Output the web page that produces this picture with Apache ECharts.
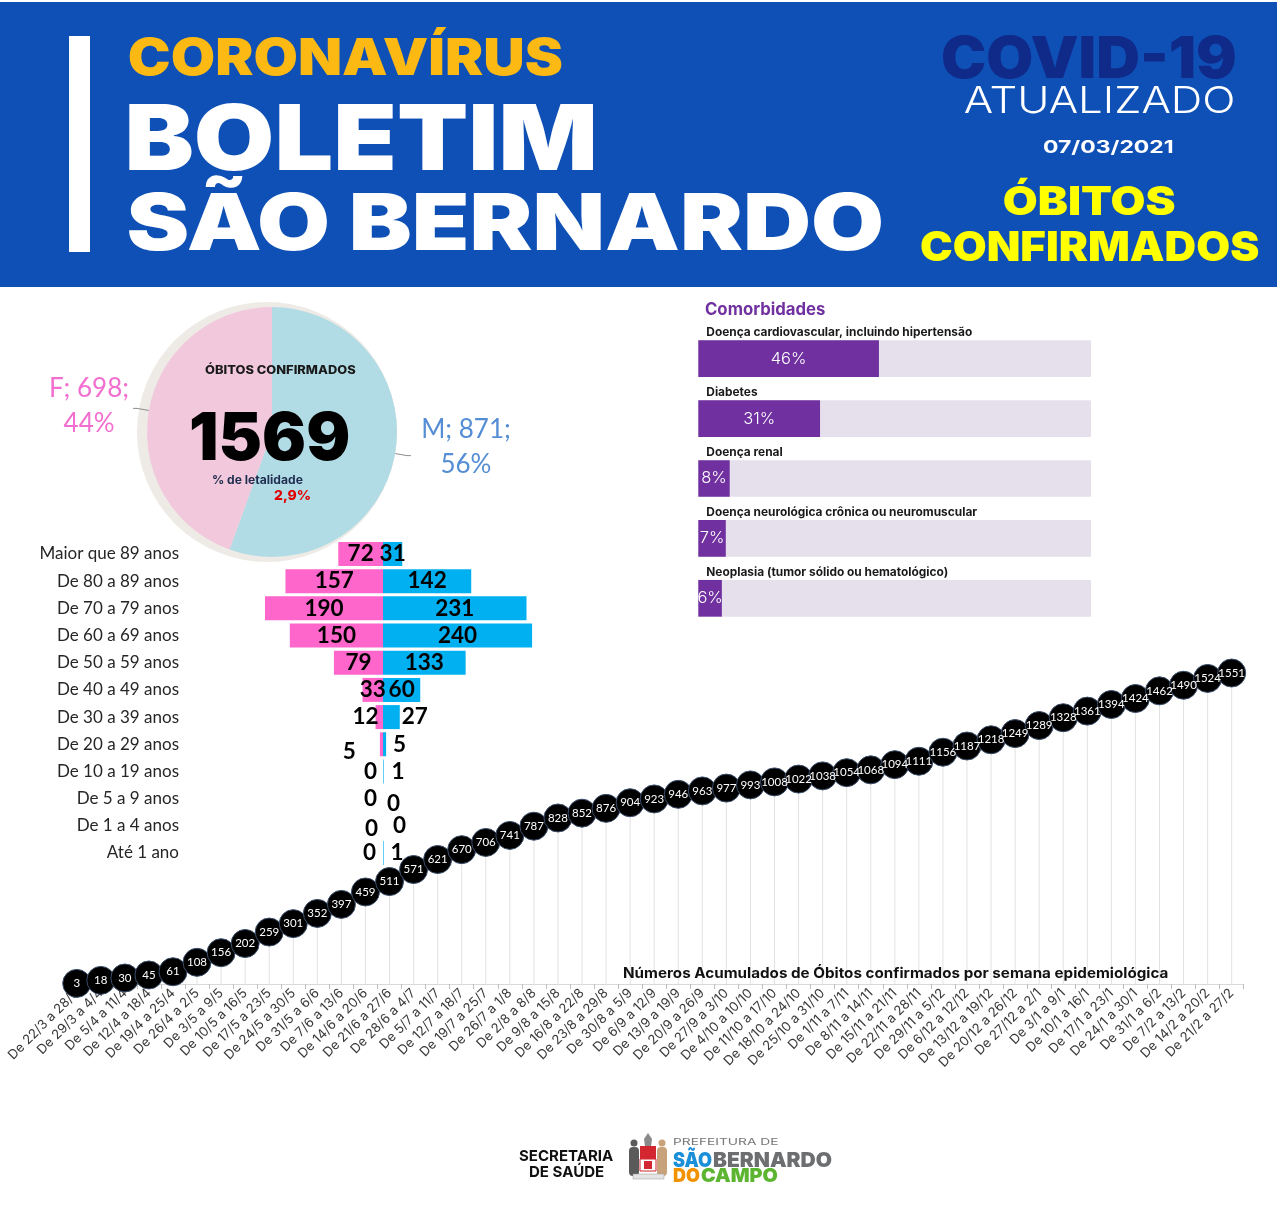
<!DOCTYPE html>
<html><head><meta charset="utf-8">
<script src="https://cdn.jsdelivr.net/npm/echarts@6/dist/echarts.min.js"></script>
<style>html,body{margin:0;padding:0;background:#fff}#c{width:1280px;height:1227px}</style>
</head><body><div id="c"></div>
<script>
// ---------- DATA ----------
const weeks = ['De 22/3 a 28/3','De 29/3 a 4/4','De 5/4 a 11/4','De 12/4 a 18/4','De 19/4 a 25/4','De 26/4 a 2/5','De 3/5 a 9/5','De 10/5 a 16/5','De 17/5 a 23/5','De 24/5 a 30/5','De 31/5 a 6/6','De 7/6 a 13/6','De 14/6 a 20/6','De 21/6 a 27/6','De 28/6 a 4/7','De 5/7 a 11/7','De 12/7 a 18/7','De 19/7 a 25/7','De 26/7 a 1/8','De 2/8 a 8/8','De 9/8 a 15/8','De 16/8 a 22/8','De 23/8 a 29/8','De 30/8 a 5/9','De 6/9 a 12/9','De 13/9 a 19/9','De 20/9 a 26/9','De 27/9 a 3/10','De 4/10 a 10/10','De 11/10 a 17/10','De 18/10 a 24/10','De 25/10 a 31/10','De 1/11 a 7/11','De 8/11 a 14/11','De 15/11 a 21/11','De 22/11 a 28/11','De 29/11 a 5/12','De 6/12 a 12/12','De 13/12 a 19/12','De 20/12 a 26/12','De 27/12 a 2/1','De 3/1 a 9/1','De 10/1 a 16/1','De 17/1 a 23/1','De 24/1 a 30/1','De 31/1 a 6/2','De 7/2 a 13/2','De 14/2 a 20/2','De 21/2 a 27/2'];
const accumulated = [3,18,30,45,61,108,156,202,259,301,352,397,459,511,571,621,670,706,741,787,828,852,876,904,923,946,963,977,993,1008,1022,1038,1054,1068,1094,1111,1156,1187,1218,1249,1289,1328,1361,1394,1424,1462,1490,1524,1551];
const ageGroups = ['Maior que 89 anos','De 80 a 89 anos','De 70 a 79 anos','De 60 a 69 anos','De 50 a 59 anos','De 40 a 49 anos','De 30 a 39 anos','De 20 a 29 anos','De 10 a 19 anos','De 5 a 9 anos','De 1 a 4 anos','Até 1 ano'];
const femaleByAge = [72,157,190,150,79,33,12,5,0,0,0,0];
const maleByAge = [31,142,231,240,133,60,27,5,1,0,0,1];
const sexNames = ['M','F'];
const sexValues = [871,698];
const comorbidities = ['Doença cardiovascular, incluindo hipertensão','Diabetes','Doença renal','Doença neurológica crônica ou neuromuscular','Neoplasia (tumor sólido ou hematológico)'];
const comorbidityPct = [46,31,8,7,6];
const totalDeaths = 1569;
const lethality = '2,9%';

// ---------- STYLE ----------
const sexColors = {M:'#b1dce5', F:'#f2c8dc'};
const sexText = {M:'#558ed5', F:'#f26fd0'};
const sexLabelShift = {M:[3,-9], F:[8,-2]};
const fLabelStyle = [
  {position:'inside'},{position:'inside'},{position:'inside'},{position:'inside'},{position:'inside'},{position:'inside'},
  {position:'left',distance:-3},{position:'left',distance:24,offset:[0,7]},{position:'left',distance:6},
  {position:'left',distance:6},{position:'left',distance:5,offset:[0,3]},{position:'left',distance:7}
];
const mLabelStyle = [
  {position:'inside'},{position:'inside'},{position:'inside'},{position:'inside'},{position:'inside'},{position:'inside'},
  {position:'right',distance:2},{position:'right',distance:7},{position:'right',distance:8},
  {position:'right',distance:4,offset:[0,5]},{position:'right',distance:10},{position:'right',distance:7}
];

const mctx = document.createElement('canvas').getContext('2d');
function fitText(txt, weight, family, capTop, capBot, xL, xR, fill, ref, z) {
  ref = ref || 'H';
  mctx.textBaseline = 'middle';
  mctx.font = weight + ' 100px ' + family;
  let mr = mctx.measureText(ref);
  const h100 = mr.actualBoundingBoxAscent + mr.actualBoundingBoxDescent;
  const fs = 100 * (capBot - capTop) / h100;
  const font = weight + ' ' + fs.toFixed(2) + 'px ' + family;
  mctx.font = font;
  mr = mctx.measureText(ref);
  const m = mctx.measureText(txt);
  const inkW = m.actualBoundingBoxLeft + m.actualBoundingBoxRight;
  const sx = (xR - xL) / inkW;
  return {type:'text', x: xL + m.actualBoundingBoxLeft * sx, y: capTop + mr.actualBoundingBoxAscent,
    scaleX: sx, z: z || 10, silent: true,
    style:{text: txt, font: font, fill: fill, textAlign:'left', textVerticalAlign:'middle', align:'left', verticalAlign:'middle'}};
}

const chart = echarts.init(document.getElementById('c'));
const graphics = [
  {type:'rect', shape:{x:0,y:2,width:1277,height:285}, style:{fill:'#0f50b6'}, z:1, silent:true},
  {type:'rect', shape:{x:69,y:36,width:21,height:216}, style:{fill:'#ffffff'}, z:2, silent:true},
  fitText('CORONAVÍRUS','900','Inter',38,75,129,562,'#fdb913'),
  fitText('BOLETIM','900','Inter',104,170,129,594,'#ffffff'),
  fitText('SÃO BERNARDO','900','Inter',193,250,129,881,'#ffffff'),
  fitText('COVID-19','900','Inter',36,78,942,1235,'#102a8a'),
  fitText('ATUALIZADO','300','Inter',86,113,965,1233,'#ffffff'),
  fitText('07/03/2021','700','Inter',140,153,1043,1173,'#ffffff','0'),
  fitText('ÓBITOS','900','Inter',186,215,1004,1175,'#ffff00'),
  fitText('CONFIRMADOS','900','Inter',231,261,921,1259,'#ffff00'),
  {type:'circle', shape:{cx:267,cy:432,r:130}, style:{fill:'#eeebe6'}, z:0, silent:true},
  fitText('ÓBITOS CONFIRMADOS','800','Inter',365,373.5,205,356,'#1a1a1a','H',100),
  fitText(String(totalDeaths),'900','Inter',412,460,191,349,'#000000','H',100),
  fitText('% de letalidade','700','Inter',475,483.5,213,303,'#1f2d4e','d',100),
  fitText(lethality,'800','Inter',490,500,274,310,'#e00000','H',100),
  fitText('Comorbidades','700','Inter',301.7,314,705,825,'#7030a0'),
  fitText('Números Acumulados de Óbitos confirmados por semana epidemiológica','700','Inter',966.5,977,623,1168,'#111111'),
  fitText('SECRETARIA','700','Inter',1150,1161,519,613,'#111111'),
  fitText('DE SAÚDE','700','Inter',1166,1177,529,604,'#111111'),
  fitText('PREFEITURA DE','400','Inter',1138,1144.5,673,778,'#777777'),
  fitText('SÃO','900','Inter',1152,1167,673,712,'#1b8fd8'),
  fitText('BERNARDO','900','Inter',1152,1167,713,832,'#6d6e70'),
  fitText('DO','900','Inter',1168,1182,673,700,'#f39200'),
  fitText('CAMPO','900','Inter',1168,1182,701,778,'#5cb531'),
  {type:'group', silent:true, children:[
    {type:'polygon', shape:{points:[[645,1146],[651,1146],[652,1139],[648,1133],[644,1139]]}, style:{fill:'#8a8a8a'}},
    {type:'rect', shape:{x:629,y:1147,width:10,height:29,r:4}, style:{fill:'#5a5a5a'}},
    {type:'circle', shape:{cx:634,cy:1143,r:3.5}, style:{fill:'#5a5a5a'}},
    {type:'rect', shape:{x:657,y:1147,width:10,height:29,r:4}, style:{fill:'#c8a27a'}},
    {type:'circle', shape:{cx:662,cy:1143,r:3.5}, style:{fill:'#c8a27a'}},
    {type:'rect', shape:{x:640,y:1146,width:16,height:13}, style:{fill:'#d22630'}},
    {type:'rect', shape:{x:640,y:1159,width:16,height:12}, style:{fill:'#ffffff', stroke:'#d22630', lineWidth:1}},
    {type:'rect', shape:{x:644,y:1161,width:8,height:8}, style:{fill:'#d22630'}},
    {type:'rect', shape:{x:633,y:1174,width:31,height:5}, style:{fill:'#e4e4e4', stroke:'#999', lineWidth:0.5}}
  ]}
];

const option = {
  animation:false,
  textStyle:{fontFamily:'Lato'},
  graphic:{elements:graphics},
  grid:[
    {left:227.7, width:310.6, top:540.4, height:326.2},
    {left:698.3, width:392.7, top:328.75, height:299.5},
    {left:64.7, width:1179, top:583, height:401}
  ],
  xAxis:[
    {gridIndex:0, type:'value', min:-250, max:250, show:false},
    {gridIndex:1, type:'value', min:0, max:100, show:false},
    {gridIndex:2, type:'category', data:weeks, boundaryGap:true,
      axisLine:{lineStyle:{color:'#d9d9d9'}},
      axisTick:{show:true, length:5, lineStyle:{color:'#bfbfbf'}},
      axisLabel:{interval:0, rotate:45, fontFamily:'Inter', fontSize:13.2, color:'#3a3a3a', margin:7},
      splitLine:{show:false}}
  ],
  yAxis:[
    {gridIndex:0, type:'category', data:ageGroups, inverse:true, axisLine:{show:false}, axisTick:{show:false},
      axisLabel:{margin:48.7, fontFamily:'Lato', fontSize:17, color:'#262626'}},
    {gridIndex:1, type:'category', data:comorbidities, inverse:true, axisLine:{show:false}, axisTick:{show:false},
      axisLabel:{inside:true, margin:8, align:'left', verticalAlign:'bottom', padding:[0,0,20,0],
        fontFamily:'Inter', fontWeight:'bold', fontSize:11.9, color:'#1a1a1a'}},
    {gridIndex:2, type:'value', min:0, max:2000, show:false}
  ],
  series:[
    {type:'bar', name:'F', xAxisIndex:0, yAxisIndex:0, stack:'age', barWidth:24,
      itemStyle:{color:'#ff66cc'},
      label:{show:true, formatter:p=>Math.abs(p.value), fontFamily:'Lato', fontWeight:'bold', fontSize:22.5, color:'#000'},
      data:femaleByAge.map((v,i)=>({value:-v, label:fLabelStyle[i]}))},
    {type:'bar', name:'M', xAxisIndex:0, yAxisIndex:0, stack:'age', barWidth:24,
      itemStyle:{color:'#00b0f0'},
      label:{show:true, fontFamily:'Lato', fontWeight:'bold', fontSize:22.5, color:'#000'},
      data:maleByAge.map((v,i)=>({value:v, label:mLabelStyle[i]}))},
    {type:'bar', xAxisIndex:1, yAxisIndex:1, barWidth:36.7, data:comorbidityPct,
      itemStyle:{color:'#7030a0'}, showBackground:true, backgroundStyle:{color:'#e6e0ec'},
      label:{show:true, position:'inside', formatter:'{c}%', color:'#fff', fontFamily:'Inter', fontSize:16.5, fontWeight:300}},
    {type:'bar', xAxisIndex:2, yAxisIndex:2, barWidth:1, data:accumulated, silent:true, z:1,
      itemStyle:{color:'#e2e2e2'}},
    {type:'line', xAxisIndex:2, yAxisIndex:2, data:accumulated, z:3,
      symbol:'circle', symbolSize:28,
      itemStyle:{color:'#000', borderColor:'#3b4e6b', borderWidth:1},
      lineStyle:{color:'#000', width:2},
      label:{show:true, position:'inside', color:'#fff', fontSize:11.5, fontFamily:'Lato'}},
    {type:'pie', center:[272,432], radius:125, startAngle:90, clockwise:true, avoidLabelOverlap:false, z:2,
      emphasis:{disabled:true},
      labelLine:{show:true, length:12, length2:4, lineStyle:{color:'#8c8c8c', width:1}},
      labelLayout:p=>{const s=sexLabelShift[sexNames[p.dataIndex]]; return {dx:s[0], dy:s[1]};},
      label:{show:true, position:'outside',
        formatter:p=>{const k=p.name==='F'?'f':'m'; return '{'+k+'|'+p.name+'; '+p.value+';}\n{'+k+'|'+Math.round(p.percent)+'%}';},
        rich:{
          f:{width:94, align:'center', color:sexText.F, fontSize:26, fontFamily:'Lato', lineHeight:35},
          m:{width:94, align:'center', color:sexText.M, fontSize:26, fontFamily:'Lato', lineHeight:35}
        }},
      data:sexNames.map((n,i)=>({name:n, value:sexValues[i], itemStyle:{color:sexColors[n]}}))}
  ]
};
chart.setOption(option);
</script></body></html>
